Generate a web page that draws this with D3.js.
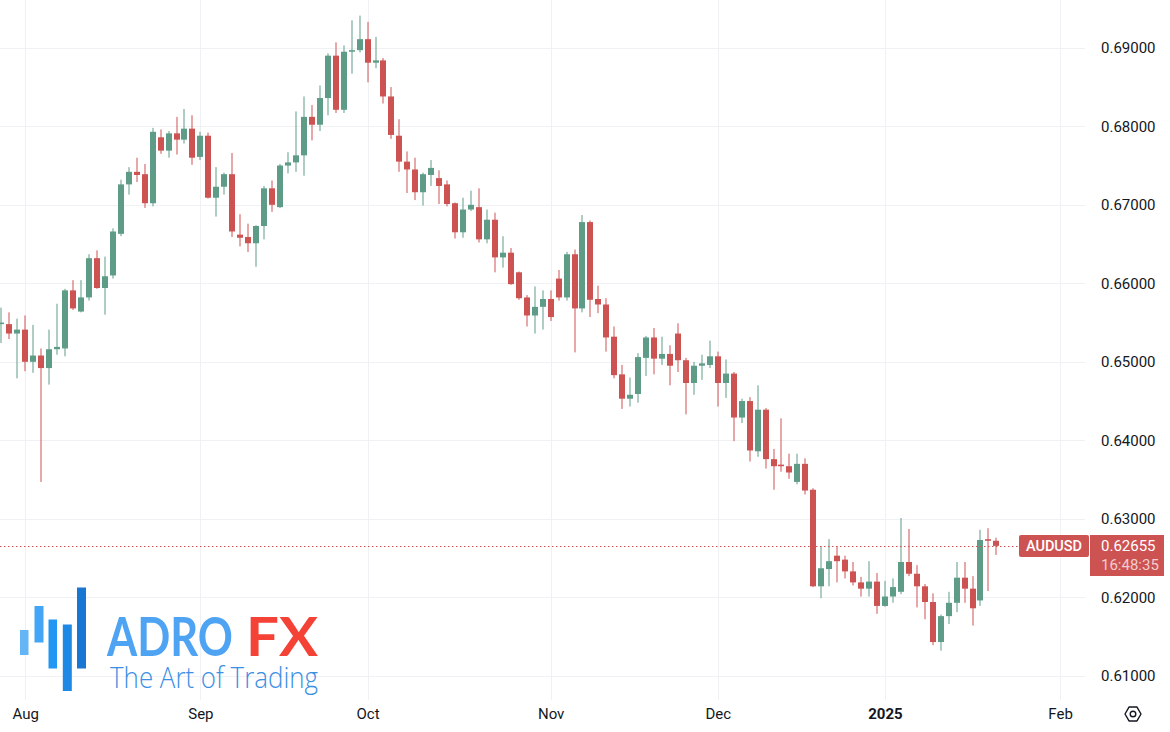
<!DOCTYPE html>
<html><head><meta charset="utf-8">
<script src="https://cdn.jsdelivr.net/npm/d3@7"></script>
<style>html,body{margin:0;padding:0;background:#fff;overflow:hidden;} svg{display:block;}</style>
</head><body>
<svg id="c" width="1170" height="732"></svg>
<script>
// ---------------- DATA ----------------
const dates = [
"2024-07-29","2024-07-30","2024-07-31",
"2024-08-01","2024-08-02","2024-08-05","2024-08-06","2024-08-07","2024-08-08","2024-08-09","2024-08-12","2024-08-13","2024-08-14","2024-08-15","2024-08-16","2024-08-19","2024-08-20","2024-08-21","2024-08-22","2024-08-23","2024-08-26","2024-08-27","2024-08-28","2024-08-29","2024-08-30",
"2024-09-02","2024-09-03","2024-09-04","2024-09-05","2024-09-06","2024-09-09","2024-09-10","2024-09-11","2024-09-12","2024-09-13","2024-09-16","2024-09-17","2024-09-18","2024-09-19","2024-09-20","2024-09-23","2024-09-24","2024-09-25","2024-09-26","2024-09-27","2024-09-30",
"2024-10-01","2024-10-02","2024-10-03","2024-10-04","2024-10-07","2024-10-08","2024-10-09","2024-10-10","2024-10-11","2024-10-14","2024-10-15","2024-10-16","2024-10-17","2024-10-18","2024-10-21","2024-10-22","2024-10-23","2024-10-24","2024-10-25","2024-10-28","2024-10-29","2024-10-30","2024-10-31",
"2024-11-01","2024-11-04","2024-11-05","2024-11-06","2024-11-07","2024-11-08","2024-11-11","2024-11-12","2024-11-13","2024-11-14","2024-11-15","2024-11-18","2024-11-19","2024-11-20","2024-11-21","2024-11-22","2024-11-25","2024-11-26","2024-11-27","2024-11-28","2024-11-29",
"2024-12-02","2024-12-03","2024-12-04","2024-12-05","2024-12-06","2024-12-09","2024-12-10","2024-12-11","2024-12-12","2024-12-13","2024-12-16","2024-12-17","2024-12-18","2024-12-19","2024-12-20","2024-12-23","2024-12-24","2024-12-26","2024-12-27","2024-12-30","2024-12-31",
"2025-01-02","2025-01-03","2025-01-06","2025-01-07","2025-01-08","2025-01-09","2025-01-10","2025-01-13","2025-01-14","2025-01-15","2025-01-16","2025-01-17","2025-01-20","2025-01-21","2025-01-22"
];
const open = [
0.6548,0.6548,0.6536,
0.6541,0.6500,0.6508,0.6492,0.6516,0.6517,0.6591,0.6564,0.6582,0.6632,0.6594,0.6610,0.6663,0.6726,0.6742,0.6739,0.6702,0.6786,0.6769,0.6791,0.6783,0.6797,
0.6761,0.6788,0.6709,0.6723,0.6739,0.6662,0.6659,0.6651,0.6673,0.6721,0.6697,0.6750,0.6754,0.6763,0.6812,0.6802,0.6836,0.6890,0.6821,0.6895,0.6897,
0.6911,0.6881,0.6884,0.6838,0.6788,0.6755,0.6745,0.6716,0.6738,0.6734,0.6726,0.6702,0.6665,0.6694,0.6697,0.6656,0.6681,0.6633,0.6639,0.6614,0.6582,0.6559,0.6570,
0.6580,0.6606,0.6582,0.6637,0.6568,0.6678,0.6580,0.6573,0.6532,0.6484,0.6453,0.6459,0.6505,0.6531,0.6504,0.6510,0.6536,0.6502,0.6473,0.6495,0.6496,
0.6507,0.6473,0.6485,0.6429,0.6450,0.6386,0.6439,0.6376,0.6369,0.6367,0.6347,0.6370,0.6337,0.6214,0.6236,0.6253,0.6248,0.6233,0.6219,0.6211,0.6220,
0.6189,0.6201,0.6207,0.6245,0.6230,0.6214,0.6194,0.6143,0.6176,0.6193,0.6225,0.6211,0.6196,0.6274,0.6272
];
const high = [
0.6569,0.6563,0.6555,
0.6559,0.6547,0.6517,0.6541,0.6574,0.6593,0.6604,0.6604,0.6637,0.6642,0.6634,0.6670,0.6732,0.6748,0.6760,0.6752,0.6798,0.6796,0.6794,0.6812,0.6822,0.6814,
0.6793,0.6792,0.6748,0.6741,0.6766,0.6688,0.6676,0.6674,0.6724,0.6731,0.6752,0.6767,0.6819,0.6838,0.6827,0.6852,0.6893,0.6907,0.6903,0.6935,0.6941,
0.6933,0.6914,0.6887,0.6850,0.6809,0.6768,0.6760,0.6741,0.6757,0.6744,0.6731,0.6703,0.6709,0.6718,0.6721,0.6694,0.6690,0.6660,0.6645,0.6615,0.6585,0.6596,0.6591,
0.6591,0.6617,0.6640,0.6643,0.6687,0.6680,0.6597,0.6581,0.6545,0.6496,0.6480,0.6511,0.6533,0.6543,0.6532,0.6521,0.6549,0.6505,0.6500,0.6509,0.6527,
0.6513,0.6503,0.6487,0.6453,0.6455,0.6470,0.6441,0.6389,0.6428,0.6383,0.6383,0.6377,0.6339,0.6265,0.6274,0.6265,0.6253,0.6245,0.6226,0.6246,0.6231,
0.6221,0.6224,0.6301,0.6287,0.6241,0.6217,0.6205,0.6178,0.6207,0.6245,0.6245,0.6227,0.6286,0.6288,0.6276
];
const low = [
0.6524,0.6529,0.6479,
0.6488,0.6486,0.6347,0.6471,0.6509,0.6507,0.6566,0.6563,0.6578,0.6593,0.6560,0.6606,0.6660,0.6713,0.6729,0.6696,0.6698,0.6765,0.6760,0.6764,0.6778,0.6751,
0.6757,0.6708,0.6685,0.6713,0.6659,0.6647,0.6640,0.6621,0.6656,0.6691,0.6696,0.6740,0.6742,0.6737,0.6782,0.6794,0.6814,0.6817,0.6817,0.6867,0.6894,
0.6856,0.6874,0.6829,0.6784,0.6742,0.6715,0.6706,0.6699,0.6724,0.6701,0.6698,0.6657,0.6658,0.6692,0.6652,0.6651,0.6614,0.6620,0.6598,0.6579,0.6545,0.6536,0.6541,
0.6552,0.6578,0.6578,0.6512,0.6563,0.6557,0.6562,0.6513,0.6479,0.6440,0.6443,0.6448,0.6482,0.6484,0.6496,0.6470,0.6487,0.6433,0.6458,0.6477,0.6492,
0.6443,0.6454,0.6399,0.6422,0.6373,0.6379,0.6364,0.6337,0.6360,0.6351,0.6344,0.6331,0.6213,0.6199,0.6214,0.6219,0.6224,0.6215,0.6201,0.6201,0.6179,
0.6188,0.6193,0.6204,0.6227,0.6187,0.6172,0.6139,0.6132,0.6166,0.6181,0.6193,0.6164,0.6189,0.6208,0.6254
];
const close = [
0.6550,0.6536,0.6541,
0.6500,0.6508,0.6492,0.6516,0.6519,0.6591,0.6568,0.6582,0.6632,0.6594,0.6609,0.6666,0.6726,0.6742,0.6738,0.6702,0.6793,0.6769,0.6791,0.6783,0.6797,0.6760,
0.6788,0.6709,0.6723,0.6739,0.6666,0.6658,0.6651,0.6673,0.6721,0.6700,0.6750,0.6754,0.6763,0.6812,0.6802,0.6836,0.6890,0.6821,0.6895,0.6897,0.6911,
0.6881,0.6884,0.6838,0.6789,0.6755,0.6745,0.6716,0.6739,0.6747,0.6724,0.6701,0.6665,0.6694,0.6700,0.6656,0.6681,0.6633,0.6639,0.6599,0.6581,0.6559,0.6570,0.6580,
0.6557,0.6582,0.6637,0.6568,0.6678,0.6579,0.6573,0.6531,0.6483,0.6453,0.6458,0.6506,0.6531,0.6504,0.6510,0.6495,0.6502,0.6473,0.6495,0.6498,0.6507,
0.6473,0.6485,0.6429,0.6450,0.6387,0.6439,0.6376,0.6367,0.6367,0.6359,0.6370,0.6336,0.6214,0.6237,0.6246,0.6246,0.6233,0.6219,0.6211,0.6220,0.6189,
0.6201,0.6213,0.6245,0.6230,0.6214,0.6194,0.6143,0.6176,0.6193,0.6225,0.6211,0.6186,0.6273,0.6272,0.62655
];
const priceTicks = [0.61,0.62,0.63,0.64,0.65,0.66,0.67,0.68,0.69];
const timeTickDates = ["2024-08-01","2024-09-02","2024-10-01","2024-11-01","2024-12-02","2025-01-02","2025-02-03"];
const timeTickLabels = ["Aug","Sep","Oct","Nov","Dec","2025","Feb"];
const symbol = "AUDUSD";
const lastPrice = 0.62655;
const countdown = "16:48:35";

// ---------------- LAYOUT ----------------
const W = 1170, H = 732;
const paneRight = 1085, paneBottom = 700;
const UP = "#5f9c87", DOWN = "#cd5353";
const FONT = "Roboto, 'Noto Sans', sans-serif";

const svg = d3.select("#c");
svg.append("rect").attr("width", W).attr("height", H).attr("fill", "#fff");

const parse = d3.utcParse("%Y-%m-%d");
const lastDate = parse(dates[dates.length-1]);
function indexOfDate(s){
  const i = dates.indexOf(s);
  if (i >= 0) return i;
  const d = parse(s);
  const days = d3.utcDay.range(d3.utcDay.offset(lastDate,1), d3.utcDay.offset(d,1))
      .filter(t => t.getUTCDay() !== 0 && t.getUTCDay() !== 6);
  return dates.length - 1 + days.length;
}

const x = d3.scaleLinear().domain([0, 136]).range([1.4, 1.4 + 136*7.96]);
const y = d3.scaleLinear().domain([0.61, 0.69]).range([675.8, 47.8]);

const defs = svg.append("defs");
defs.append("clipPath").attr("id","pane").append("rect")
  .attr("x",0).attr("y",0).attr("width",paneRight).attr("height",paneBottom);

// grid
const grid = svg.append("g").attr("clip-path","url(#pane)");
grid.selectAll("line.h").data(priceTicks).join("line")
  .attr("x1",0).attr("x2",paneRight)
  .attr("y1",d=>Math.round(y(d))+0.5).attr("y2",d=>Math.round(y(d))+0.5)
  .attr("stroke","#f0f1f4").attr("stroke-width",1);
const tickIdx = timeTickDates.map(indexOfDate);
grid.selectAll("line.v").data(tickIdx).join("line")
  .attr("y1",0).attr("y2",paneBottom)
  .attr("x1",d=>Math.round(x(d))+0.5).attr("x2",d=>Math.round(x(d))+0.5)
  .attr("stroke","#f0f1f4").attr("stroke-width",1);

// logo (watermark, bottom-left)
const logo = svg.append("g");
const barCols = ["#64b5f6","#42a5f5","#2196f3","#1e88e5","#1976d2"];
const barRects = [[20,630,8.5,25],[34.5,606,9,36.5],[48.5,619.5,8.5,49],[62.8,624.5,9,66.5],[77,587.5,9,81]];
barRects.forEach((r,i)=>logo.append("rect").attr("x",r[0]).attr("y",r[1]).attr("width",r[2]).attr("height",r[3]).attr("fill",barCols[i]));
logo.append("text").attr("x",107).attr("y",656).text("ADRO")
  .attr("font-family","Lato, sans-serif").attr("font-weight",700).attr("font-size",54)
  .attr("fill","#4ea4f3").attr("textLength",126).attr("lengthAdjust","spacingAndGlyphs");
logo.append("text").attr("x",246).attr("y",656).text("FX")
  .attr("font-family","Lato, sans-serif").attr("font-weight",700).attr("font-size",54)
  .attr("fill","#f44336").attr("textLength",72).attr("lengthAdjust","spacingAndGlyphs");
logo.append("text").attr("x",110).attr("y",688).text("The Art of Trading")
  .attr("font-family","'Open Sans', sans-serif").attr("font-weight",300).attr("font-size",28.5)
  .attr("fill","#3b8fe4").attr("textLength",208).attr("lengthAdjust","spacingAndGlyphs");

// candles
const bars = dates.map((d,i)=>({i, o:open[i], h:high[i], l:low[i], c:close[i]}));
const cg = svg.append("g").attr("clip-path","url(#pane)");
const cand = cg.selectAll("g.c").data(bars).join("g");
cand.append("rect")
  .attr("x", d => Math.round(x(d.i)) - 0.5).attr("width", 1)
  .attr("y", d => y(d.h)).attr("height", d => Math.max(1, y(d.l) - y(d.h)))
  .attr("fill", d => d.c >= d.o ? UP : DOWN);
cand.append("rect")
  .attr("x", d => Math.round(x(d.i)) - 3).attr("width", 6)
  .attr("y", d => y(Math.max(d.o,d.c))).attr("height", d => Math.max(1.2, Math.abs(y(d.o) - y(d.c))))
  .attr("fill", d => d.c >= d.o ? UP : DOWN);

// last price dotted line
const yl = Math.round(y(lastPrice)) + 0.5;
svg.append("line").attr("x1",0).attr("x2",1019).attr("y1",yl).attr("y2",yl)
  .attr("stroke",DOWN).attr("stroke-width",1).attr("stroke-dasharray","1.5,2.5");

// price axis
const yAxis = d3.axisRight(y).tickValues(priceTicks).tickFormat(d3.format(".5f")).tickSize(0).tickPadding(9);
const ya = svg.append("g").attr("transform",`translate(1092,0)`).call(yAxis);
ya.select(".domain").remove();
ya.selectAll("text").attr("font-family",FONT).attr("font-size",15).attr("fill","#131722");

// time axis
const xAxis = d3.axisBottom(x).tickValues(tickIdx).tickFormat((d,i)=>timeTickLabels[i]).tickSize(0).tickPadding(3);
const xa = svg.append("g").attr("transform",`translate(0,705)`).call(xAxis);
xa.select(".domain").remove();
xa.selectAll("text").attr("font-family",FONT).attr("font-size",15).attr("fill","#131722")
  .attr("font-weight",(d,i)=>timeTickLabels[i]==="2025"?700:400);

// symbol label + price label
const lab = svg.append("g");
lab.append("rect").attr("x",1019).attr("y",535).attr("width",70).attr("height",22).attr("rx",2).attr("fill",DOWN);
lab.append("text").attr("x",1054).attr("y",551).attr("text-anchor","middle").text(symbol)
  .attr("font-family",FONT).attr("font-size",14.5).attr("font-weight",500).attr("fill","#fff");
lab.append("rect").attr("x",1090).attr("y",535).attr("width",74).attr("height",41).attr("fill",DOWN);
lab.append("text").attr("x",1101).attr("y",551).text(d3.format(".5f")(lastPrice))
  .attr("font-family",FONT).attr("font-size",15).attr("fill","#fff");
lab.append("text").attr("x",1101).attr("y",570).text(countdown)
  .attr("font-family",FONT).attr("font-size",15).attr("fill","#fff").attr("fill-opacity",0.72);

// settings icon
const cx0 = 1133, cy0 = 714, R = 8;
const hex = d3.range(6).map(k => [cx0 + R*Math.cos(Math.PI/3*k), cy0 + R*Math.sin(Math.PI/3*k)]);
svg.append("path").attr("d", d3.line().curve(d3.curveLinearClosed)(hex))
  .attr("fill","none").attr("stroke","#131722").attr("stroke-width",1.4).attr("stroke-linejoin","round");
svg.append("circle").attr("cx",cx0).attr("cy",cy0).attr("r",2.8)
  .attr("fill","none").attr("stroke","#131722").attr("stroke-width",1.4);
</script>
</body></html>
